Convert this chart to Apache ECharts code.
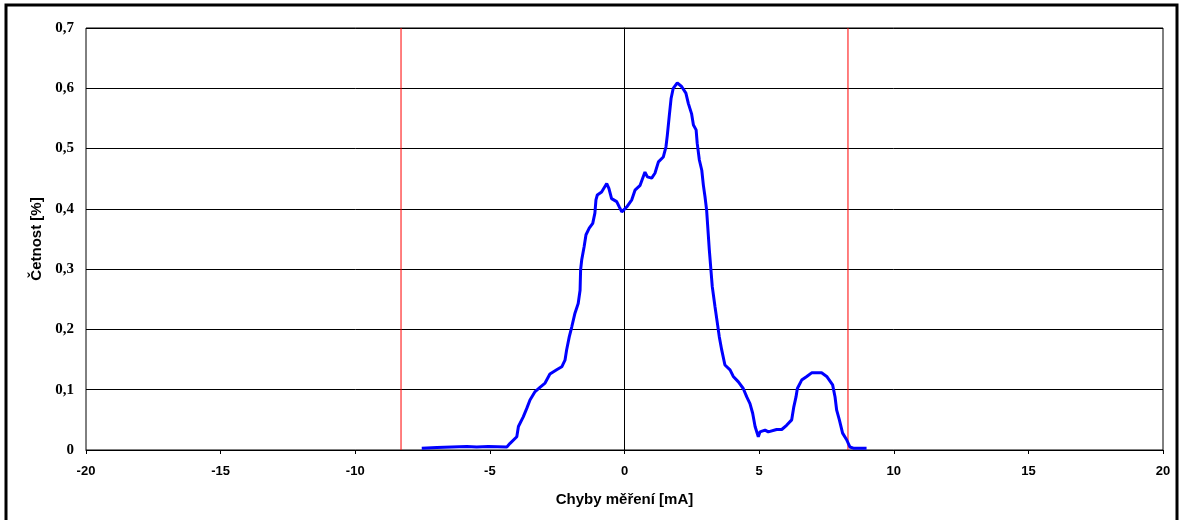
<!DOCTYPE html>
<html>
<head>
<meta charset="utf-8">
<script src="https://cdn.jsdelivr.net/npm/echarts@6/dist/echarts.min.js"></script>
<style>html,body{margin:0;padding:0;background:#fff;}#c{width:1180px;height:520px;}</style>
</head>
<body>
<div id="c"></div>
<script>
const xTicks = [-20, -15, -10, -5, 0, 5, 10, 15, 20];
const yTicks = [0, 0.1, 0.2, 0.3, 0.4, 0.5, 0.6, 0.7];
const zeroLine = [0];
const limitLines = [-8.3, 8.3];
const errX = [-7.53,-6.97,-5.86,-5.49,-5.06,-4.37,-4.25,-4.0,-3.94,-3.76,-3.63,-3.51,-3.32,-3.14,-2.95,-2.77,-2.52,-2.33,-2.21,-2.15,-2.05,-1.96,-1.84,-1.72,-1.65,-1.63,-1.59,-1.50,-1.43,-1.31,-1.18,-1.10,-1.06,-1.01,-0.85,-0.66,-0.58,-0.48,-0.29,-0.19,-0.10,0.08,0.27,0.39,0.58,0.76,0.85,1.01,1.13,1.26,1.44,1.54,1.59,1.66,1.73,1.81,1.96,2.12,2.28,2.37,2.49,2.56,2.66,2.70,2.78,2.87,2.93,2.99,3.05,3.15,3.20,3.26,3.36,3.45,3.52,3.61,3.73,3.92,4.04,4.23,4.41,4.54,4.66,4.76,4.85,4.97,5.03,5.22,5.34,5.65,5.84,6.02,6.21,6.29,6.37,6.42,6.58,6.77,6.95,7.32,7.51,7.73,7.82,7.88,7.98,8.10,8.25,8.37,8.50,8.99];
const freq = [0.003,0.004,0.006,0.005,0.006,0.005,0.011,0.022,0.039,0.055,0.069,0.083,0.097,0.104,0.111,0.126,0.133,0.138,0.149,0.166,0.188,0.204,0.227,0.243,0.265,0.299,0.315,0.337,0.357,0.368,0.376,0.393,0.415,0.423,0.428,0.442,0.434,0.417,0.412,0.403,0.395,0.403,0.415,0.431,0.439,0.461,0.453,0.451,0.459,0.478,0.486,0.503,0.522,0.553,0.583,0.600,0.609,0.603,0.592,0.575,0.558,0.539,0.531,0.509,0.481,0.464,0.439,0.420,0.398,0.332,0.304,0.271,0.238,0.210,0.188,0.166,0.141,0.133,0.122,0.113,0.102,0.088,0.077,0.061,0.039,0.022,0.030,0.033,0.030,0.034,0.034,0.041,0.050,0.072,0.088,0.102,0.116,0.122,0.128,0.128,0.122,0.108,0.088,0.066,0.050,0.028,0.017,0.005,0.003,0.003];

const chart = echarts.init(document.getElementById('c'), null, {renderer:'canvas'});
const fmt = v => String(Math.round(v*10)/10).replace('.', ',');
const yMax = yTicks[yTicks.length-1];
const vLine = (v, color) => ({
  type: 'line', data: [[v, yTicks[0]], [v, yMax]], showSymbol: false, silent: true,
  lineStyle: {color: color, width: 1}, emphasis: {disabled: true}, z: 2
});
chart.setOption({
  animation: false,
  backgroundColor: '#fff',
  graphic: [{
    type: 'rect', shape: {x: 6, y: 5, width: 1171, height: 530},
    style: {fill: 'none', stroke: '#000', lineWidth: 3}, silent: true
  }],
  grid: {left: 86, right: 17, top: 28, bottom: 70, show: true, borderColor: '#000', borderWidth: 1},
  xAxis: {
    type: 'value', min: xTicks[0], max: xTicks[xTicks.length-1], interval: 5,
    name: 'Chyby měření [mA]', nameLocation: 'middle', nameGap: 42,
    nameTextStyle: {fontFamily: 'Liberation Sans', fontWeight: 'bold', fontSize: 15, color: '#000'},
    axisLine: {lineStyle: {color: '#000', width: 1}},
    axisTick: {show: true, length: 4, lineStyle: {color: '#000'}},
    axisLabel: {margin: 15, fontFamily: 'Liberation Sans', fontWeight: 'bold', fontSize: 13, color: '#000'},
    splitLine: {show: false}
  },
  yAxis: {
    type: 'value', min: yTicks[0], max: yMax, interval: 0.1,
    name: 'Četnost [%]', nameLocation: 'middle', nameGap: 40,
    nameTextStyle: {fontFamily: 'Liberation Sans', fontWeight: 'bold', fontSize: 15, color: '#000'},
    axisLine: {show: true, lineStyle: {color: '#000', width: 1}},
    axisTick: {show: true, length: 4, lineStyle: {color: '#000'}},
    axisLabel: {margin: 12, formatter: fmt, fontFamily: 'Liberation Serif', fontWeight: 'bold', fontSize: 15, color: '#000'},
    splitLine: {show: true, lineStyle: {color: '#000', width: 1}}
  },
  series: [
    ...zeroLine.map(v => vLine(v, '#000000')),
    ...limitLines.map(v => vLine(v, '#ff0000')),
    {
      type: 'line',
      data: errX.map((x, i) => [x, freq[i]]),
      showSymbol: false,
      lineStyle: {color: '#0000ff', width: 3},
      z: 5
    }
  ]
});
</script>
</body>
</html>
